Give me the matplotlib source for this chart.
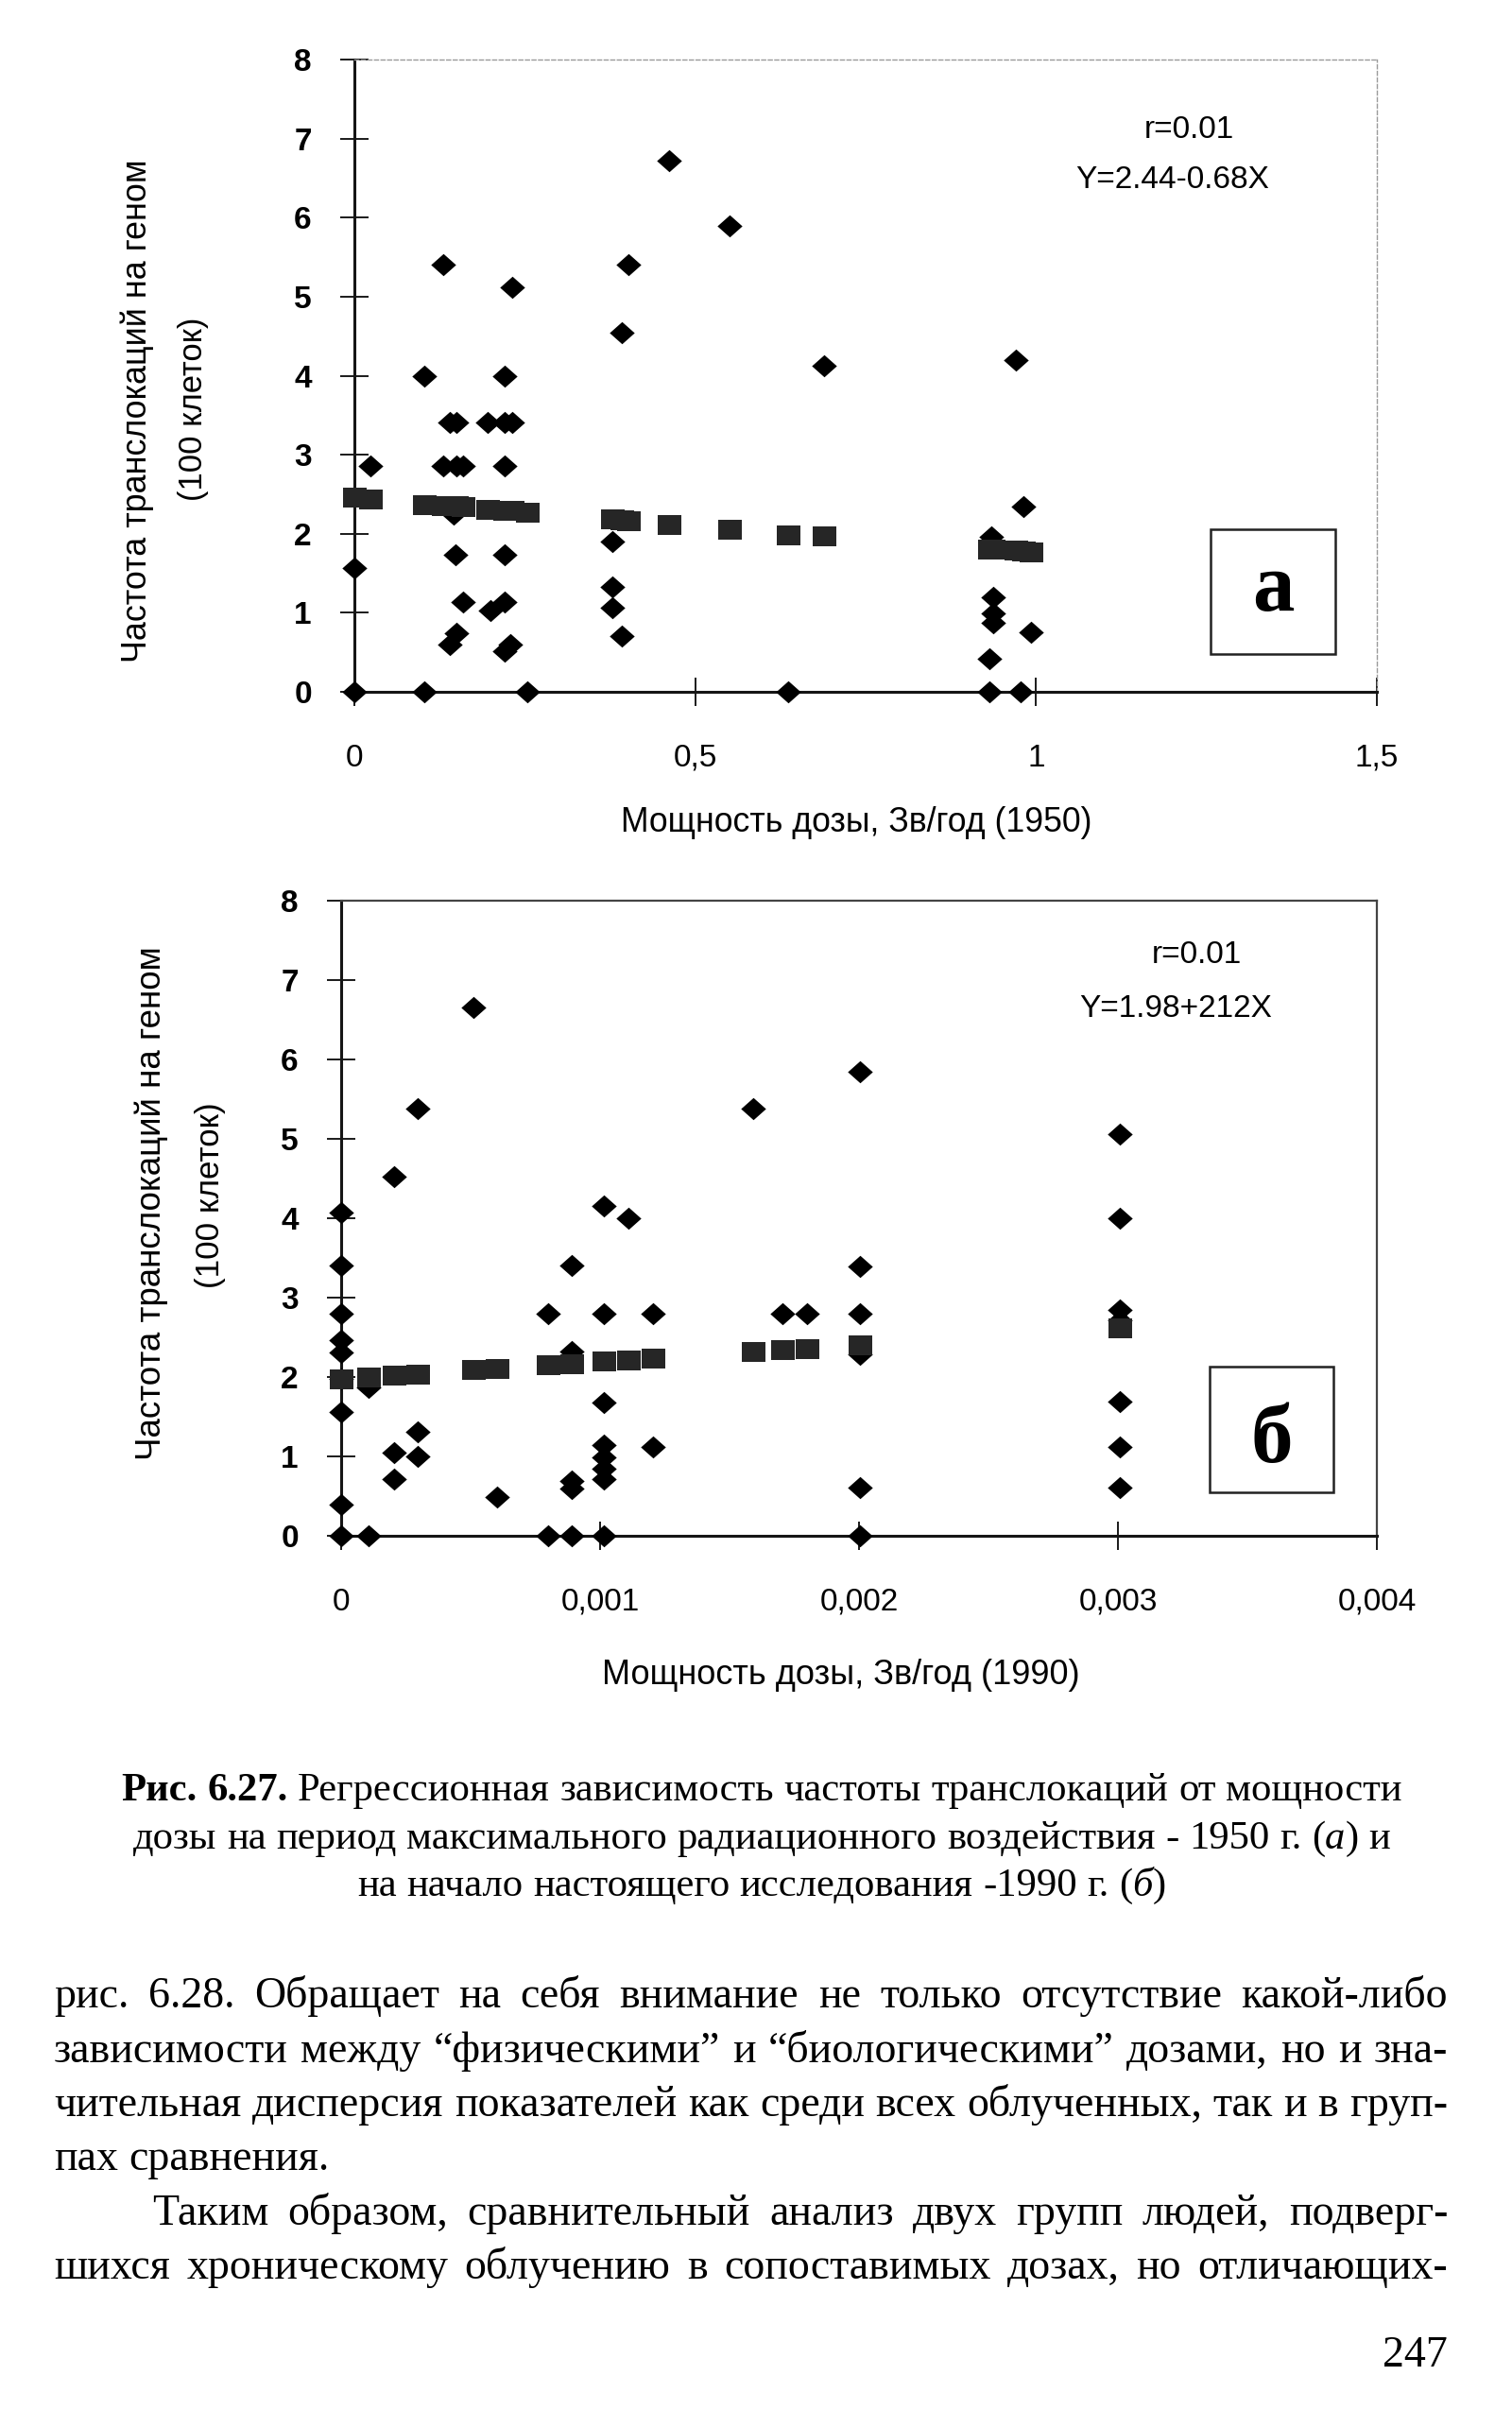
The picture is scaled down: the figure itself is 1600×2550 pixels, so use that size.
import re
import matplotlib
matplotlib.use("Agg")
import matplotlib.pyplot as plt
from matplotlib.patches import Rectangle

W, H = 1600, 2550
DPI = 100

# панель а: мощность дозы 1950, частота транслокаций
a_x = [0, 0, 0.023, 0.102, 0.102, 0.130, 0.130, 0.140, 0.150, 0.150, 0.160, 0.148,
       0.160, 0.140, 0.150, 0.145,
       0.231, 0.221, 0.196, 0.221, 0.231, 0.221, 0.221, 0.199, 0.221, 0.221, 0.229, 0.254,
       0.392, 0.402, 0.379, 0.379, 0.379, 0.392, 0.461, 0.550, 0.636, 0.689,
       0.971, 0.981, 0.935, 0.937, 0.937, 0.937, 0.993, 0.932, 0.932, 0.978]
a_y = [0, 1.57, 2.86, 4.00, 0, 5.41, 2.86, 3.41, 3.41, 2.86, 2.86, 1.73,
       1.14, 0.60, 0.74, 2.25,
       5.12, 4.00, 3.41, 3.41, 3.41, 2.86, 1.73, 1.03, 1.14, 0.51, 0.60, 0,
       4.54, 5.41, 1.90, 1.33, 1.06, 0.71, 6.72, 5.90, 0, 4.12,
       4.20, 2.34, 1.96, 1.19, 0.99, 0.87, 0.75, 0.42, 0, 0]
# расчётные значения (квадраты)
a_fit_x = [0, 0.023, 0.102, 0.130, 0.140, 0.150, 0.160, 0.196, 0.221, 0.231, 0.254,
           0.379, 0.392, 0.402, 0.461, 0.550, 0.636, 0.689, 0.932, 0.937, 0.971, 0.981, 0.993]
a_fit_y = [2.46, 2.44, 2.37, 2.36, 2.35, 2.35, 2.34, 2.31, 2.29, 2.29, 2.27,
           2.19, 2.18, 2.17, 2.12, 2.06, 1.99, 1.97, 1.81, 1.81, 1.79, 1.78, 1.77]

# панель б: мощность дозы 1990
b_x = [0, 0, 0, 0, 0, 0, 0, 0, 0,
       0.000107, 0.000107,
       0.000203, 0.000203, 0.000203,
       0.000296, 0.000296, 0.000296,
       0.00051, 0.000603,
       0.000801, 0.000801,
       0.000892, 0.000892, 0.000892, 0.000892, 0.000892,
       0.001015, 0.001015, 0.001015, 0.001015, 0.001015, 0.001015, 0.001015, 0.001015,
       0.001108, 0.001204, 0.001204,
       0.001591, 0.001704, 0.0018,
       0.002003, 0.002003, 0.002003, 0.002003, 0.002003, 0.002003,
       0.003007, 0.003007, 0.003007, 0.003007, 0.003007, 0.003007, 0.003007]
b_y = [4.07, 3.40, 2.80, 2.47, 2.31, 1.98, 1.56, 0.39, 0,
       1.87, 0,
       4.52, 1.05, 0.72,
       5.38, 1.31, 1.00,
       6.66, 0.49,
       2.80, 0,
       3.40, 2.32, 0.69, 0.59, 0,
       4.15, 2.80, 1.68, 1.14, 0.99, 0.85, 0.71, 0,
       4.00, 2.80, 1.12,
       5.38, 2.80, 2.80,
       5.84, 3.39, 2.80, 2.29, 0.61, 0,
       5.06, 4.00, 2.85, 2.72, 1.69, 1.12, 0.61]
b_fit_x = [0, 0.000107, 0.000203, 0.000296, 0.00051, 0.000603, 0.000801, 0.000892,
           0.001015, 0.001108, 0.001204, 0.001591, 0.001704, 0.0018, 0.002003, 0.003007]
b_fit_y = [1.98, 2.00, 2.02, 2.04, 2.09, 2.11, 2.15, 2.17,
           2.20, 2.21, 2.24, 2.32, 2.34, 2.36, 2.40, 2.62]

a_xticks = [0, 0.5, 1, 1.5]
a_xticklabels = ["0", "0,5", "1", "1,5"]
b_xticks = [0, 0.001, 0.002, 0.003, 0.004]
b_xticklabels = ["0", "0,001", "0,002", "0,003", "0,004"]
yticks = [0, 1, 2, 3, 4, 5, 6, 7, 8]

ylabel_1 = "Частота транслокаций на геном"
ylabel_2 = "(100 клеток)"
a_xlabel = "Мощность дозы, Зв/год (1950)"
b_xlabel = "Мощность дозы, Зв/год (1990)"

caption = [
    "*Рис.* *6.27.* Регрессионная зависимость частоты транслокаций от мощности",
    "дозы на период максимального радиационного воздействия - 1950 г. (_а_) и",
    "на начало настоящего исследования -1990 г. (_б_)",
]
body = [
    "рис. 6.28. Обращает на себя внимание не только отсутствие какой-либо",
    "зависимости между “физическими” и “биологическими” дозами, но и зна-",
    "чительная дисперсия показателей как среди всех облученных, так и в груп-",
    "пах сравнения.",
    "Таким образом, сравнительный анализ двух групп людей, подверг-",
    "шихся хроническому облучению в сопоставимых дозах, но отличающих-",
]

plt.rcParams["font.family"] = "Liberation Sans"

DIAMOND = [(-1, 0), (0, 0.89), (1, 0), (0, -0.89), (-1, 0)]
SQUARE = [(-1, -0.84), (1, -0.84), (1, 0.84), (-1, 0.84), (-1, -0.84)]

fig = plt.figure(figsize=(W / DPI, H / DPI), dpi=DPI)
fig.patch.set_facecolor("white")


def px_axes(left, top, right, bottom):
    return fig.add_axes([left / W, 1 - bottom / H, (right - left) / W, (bottom - top) / H])


def setup(ax, xmax, xticks, xticklabels, dotted_frame):
    ax.set_xlim(0, xmax)
    ax.set_ylim(0, 8)
    ax.set_xticks(xticks)
    ax.set_xticklabels(xticklabels, fontsize=24)
    ax.set_yticks(yticks)
    ax.set_yticklabels([str(v) for v in yticks], fontsize=24, fontweight="bold")
    ax.tick_params(direction="inout", length=21, width=1.4, color="#1a1a1a")
    ax.tick_params(axis="y", pad=22)
    ax.tick_params(axis="x", pad=29)
    for s in ("left", "bottom"):
        ax.spines[s].set_linewidth(2.2)
        ax.spines[s].set_color("#151515")
    for s in ("top", "right"):
        if dotted_frame:
            ax.spines[s].set_linewidth(1.0)
            ax.spines[s].set_color("#9a9a9a")
            ax.spines[s].set_linestyle((0, (3, 2)))
        else:
            ax.spines[s].set_linewidth(1.6)
            ax.spines[s].set_color("#444444")


def scatter(ax, x, y, fx, fy):
    ax.plot(x, y, linestyle="none", marker=DIAMOND, ms=19, color="black",
            mew=0, clip_on=False, zorder=4)
    ax.plot(fx, fy, linestyle="none", marker=SQUARE, ms=18, color="#262626",
            mew=0, clip_on=False, zorder=5)


# ---- панель а ----
ax1 = px_axes(375, 63, 1457, 732)
setup(ax1, 1.5, a_xticks, a_xticklabels, True)
scatter(ax1, a_x, a_y, a_fit_x, a_fit_y)
ax1.text(1.225, 7.11, "r=0.01", ha="center", va="center", fontsize=24)
ax1.text(1.200, 6.47, "Y=2.44-0.68X", ha="center", va="center", fontsize=24)
ax1.add_patch(Rectangle((1.256, 0.48), 0.183, 1.58, fill=False, lw=1.8, ec="#222", zorder=3))
ax1.text(1.3475, 1.03, "а", ha="center", va="baseline", fontsize=64,
         fontweight="bold", family="Liberation Serif")

# ---- панель б ----
ax2 = px_axes(361, 953, 1457, 1625)
setup(ax2, 0.004, b_xticks, b_xticklabels, False)
scatter(ax2, b_x, b_y, b_fit_x, b_fit_y)
ax2.text(0.003303, 7.31, "r=0.01", ha="center", va="center", fontsize=24)
ax2.text(0.003223, 6.64, "Y=1.98+212X", ha="center", va="center", fontsize=24)
ax2.add_patch(Rectangle((0.003354, 0.55), 0.000478, 1.58, fill=False, lw=1.8, ec="#222", zorder=3))
ax2.text(0.003593, 0.93, "б", ha="center", va="baseline", fontsize=64,
         fontweight="bold", family="Liberation Serif")

renderer = fig.canvas.get_renderer()


def text_width(s, size, family, **kw):
    t = fig.text(0, 0, s, fontsize=size, family=family, **kw)
    w = t.get_window_extent(renderer).width
    t.remove()
    return w


def fitted(x, y, s, target, **kw):
    t = fig.text(x / W, 1 - y / H, s, ha="center", va="center", fontsize=20, **kw)
    w = t.get_window_extent(renderer)
    size_w = w.height if kw.get("rotation") else w.width
    t.set_fontsize(20 * target / size_w)
    return t


# подписи осей
fitted(145, 435, ylabel_1, 531, rotation=90)
fitted(205, 433, ylabel_2, 195, rotation=90)
fitted(906, 870, a_xlabel, 498)
fitted(160, 1273, ylabel_1, 543, rotation=90)
fitted(222, 1265, ylabel_2, 197, rotation=90)
fitted(890, 1772, b_xlabel, 506)


def parse_word(word):
    segs = []
    for part in re.split(r"(\*[^*]+\*|_[^_]+_)", word):
        if not part:
            continue
        if part.startswith("*"):
            segs.append((part[1:-1], {"fontweight": "bold"}))
        elif part.startswith("_"):
            segs.append((part[1:-1], {"fontstyle": "italic"}))
        else:
            segs.append((part, {}))
    return segs


def measure_line(line, size, family):
    words = [parse_word(w) for w in line.split()]
    widths = [[text_width(s, size, family, **kw) for s, kw in wd] for wd in words]
    return words, widths


def space_width(size, family):
    return text_width("н н", size, family) - text_width("нн", size, family)


def draw_line(line, y_center, size, family, left=None, right=None, center=None):
    words, widths = measure_line(line, size, family)
    totals = [sum(ws) for ws in widths]
    gap = space_width(size, family)
    if left is not None and right is not None and len(words) > 1:
        gap = (right - left - sum(totals)) / (len(words) - 1)
    full = sum(totals) + gap * (len(words) - 1)
    x = left if center is None else center - full / 2
    base = y_center + 0.23 * size * DPI / 72
    for wd, ws in zip(words, widths):
        for (s, kw), w in zip(wd, ws):
            fig.text(x / W, 1 - base / H, s, fontsize=size, family=family,
                     ha="left", va="baseline", color="black", **kw)
            x += w
        x += gap


def natural_width(line, size, family):
    words, widths = measure_line(line, size, family)
    return sum(sum(ws) for ws in widths) + space_width(size, family) * (len(words) - 1)


SERIF = "Liberation Serif"

# подпись к рисунку
cap_size = 10 * 1360 / natural_width(caption[0], 10, SERIF)
for line, yc in zip(caption, [1895, 1946, 1996]):
    draw_line(line, yc, cap_size, SERIF, center=806)

# основной текст
body_y = [2113, 2171, 2228, 2285, 2343, 2400]
body_left = [57, 57, 57, 57, 161, 57]
justified = [True, True, True, False, True, True]
body_size = 34
for line, l, j in zip(body, body_left, justified):
    if j:
        body_size = min(body_size, 10 * (1532 - l) / natural_width(line, 10, SERIF))
for line, yc, l, j in zip(body, body_y, body_left, justified):
    draw_line(line, yc, body_size, SERIF, left=l, right=1532 if j else None)

fig.text(1532 / W, 1 - (2493 + 0.23 * body_size * DPI / 72) / H, "247", ha="right",
         va="baseline", fontsize=body_size, family=SERIF, color="black")

fig.savefig("out.png", dpi=DPI, facecolor="white")
